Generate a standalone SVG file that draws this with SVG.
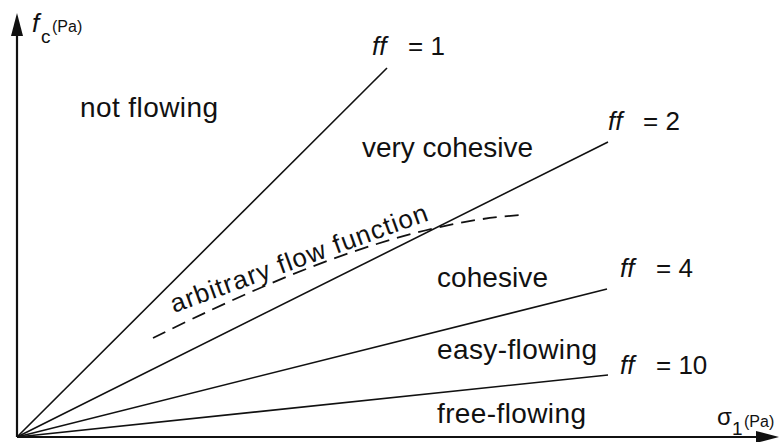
<svg xmlns="http://www.w3.org/2000/svg" width="782" height="442" viewBox="0 0 782 442">
<style>
.lbl{font-family:"Liberation Sans",Arial,sans-serif;font-size:28px;fill:#111}
.ff{font-family:"Liberation Sans",Arial,sans-serif;font-size:26px;fill:#111}
.it{font-style:italic}
.ax{stroke:#111;stroke-width:2.2;fill:none}
.ln{stroke:#111;stroke-width:1.6;fill:none}
.dash{stroke:#111;stroke-width:1.8;fill:none;stroke-dasharray:14 8}
.small{font-family:"Liberation Sans",Arial,sans-serif;font-size:16px;fill:#111}
.sub{font-family:"Liberation Sans",Arial,sans-serif;font-size:19px;fill:#111}
</style>
<rect width="782" height="442" fill="#fff"/>
<g id="axes">
<line class="ax" x1="17" y1="437" x2="17" y2="30"/>
<polygon points="17,13 11,36 23,36" fill="#111"/>
<line class="ax" x1="17" y1="437" x2="760" y2="437"/>
<polygon points="779,437 756,431 756,443" fill="#111"/>
<text class="ff it" x="32" y="32">f</text>
<text class="sub" x="41" y="43">c</text>
<text class="small" x="52" y="32">(Pa)</text>
<text class="ff" x="717" y="425" style="font-size:24px">σ</text>
<text class="sub" x="732" y="435">1</text>
<text class="small" x="744" y="427">(Pa)</text>
</g>
<g id="connectors">
<line class="ln" x1="17" y1="437" x2="387" y2="68"/>
<line class="ln" x1="17" y1="437" x2="608" y2="142"/>
<line class="ln" x1="17" y1="437" x2="607" y2="289"/>
<line class="ln" x1="17" y1="437" x2="608" y2="375"/>
<path class="dash" d="M153,338 C260,285 400,222 522,215"/>
</g>
<g id="ff1"><text class="ff" x="372" y="55"><tspan class="it">ff</tspan><tspan x="408">= 1</tspan></text></g>
<g id="ff2"><text class="ff" x="608" y="130"><tspan class="it">ff</tspan><tspan x="643">= 2</tspan></text></g>
<g id="ff4"><text class="ff" x="620" y="277"><tspan class="it">ff</tspan><tspan x="656">= 4</tspan></text></g>
<g id="ff10"><text class="ff" x="620" y="374"><tspan class="it">ff</tspan><tspan x="656">= 10</tspan></text></g>
<g id="not-flowing"><text class="lbl" x="80" y="117" textLength="138">not flowing</text></g>
<g id="very-cohesive"><text class="lbl" x="362" y="157" textLength="171">very cohesive</text></g>
<g id="cohesive"><text class="lbl" x="437" y="287" textLength="111">cohesive</text></g>
<g id="easy-flowing"><text class="lbl" x="437" y="359" textLength="160">easy-flowing</text></g>
<g id="free-flowing"><text class="lbl" x="437" y="423" textLength="149">free-flowing</text></g>
<g id="arbitrary"><text class="lbl" x="0" y="0" style="font-size:26px" transform="translate(174,313) rotate(-20)" textLength="272">arbitrary flow function</text></g>
</svg>
